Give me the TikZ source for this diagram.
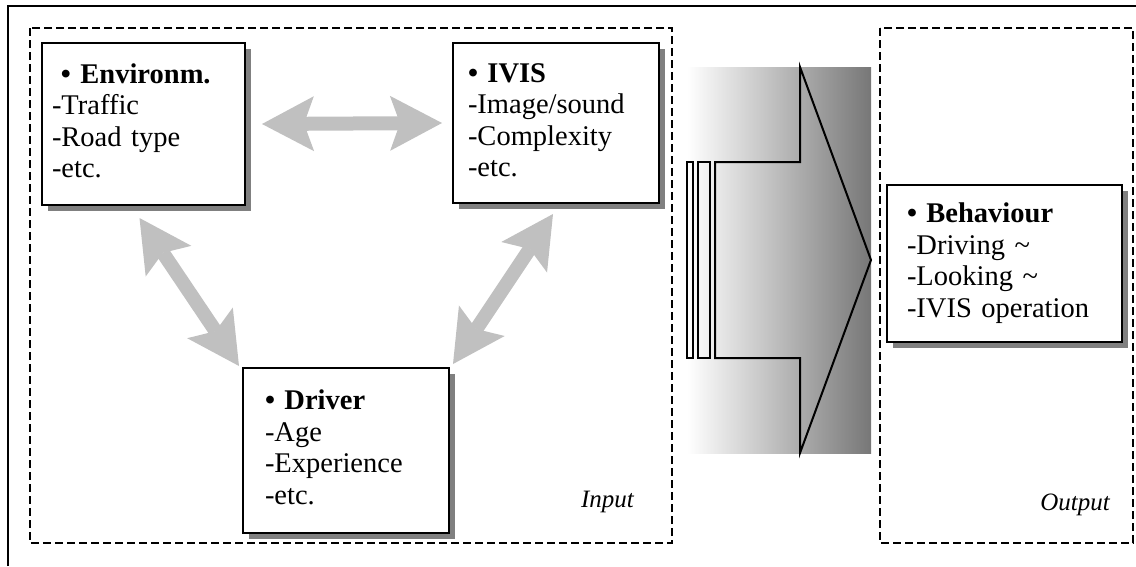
\documentclass[tikz,border=0pt]{standalone}
\usepackage{fontspec}
\setmainfont{Liberation Serif}
\usetikzlibrary{arrows.meta,shadows}
\definecolor{shadowgray}{RGB}{128,128,128}
\definecolor{arrowgray}{RGB}{192,192,192}
\definecolor{darkgrad}{RGB}{119,119,119}
\begin{document}
\begin{tikzpicture}[x=1pt,y=-1pt,
  box/.style={draw=black, line width=2pt, fill=white, rectangle, align=left,
    inner ysep=0pt, font=\fontsize{28.5}{31.5}\selectfont,
    drop shadow={shadow xshift=6pt, shadow yshift=-6pt, fill=shadowgray, opacity=1}},
  frame/.style={draw=black, line width=1.6pt, dash pattern=on 8pt off 4pt},
  garrowtip/.style={},
  garrow/.style={draw=arrowgray, line width=14pt,
    {Stealth[length=52pt,width=55pt,inset=10pt,line width=0pt]}-{Stealth[length=52pt,width=55pt,inset=10pt,line width=0pt]}},
  lbl/.style={inner sep=0pt, font=\fontsize{25}{30}\selectfont\itshape},
  outline/.style={draw=black, line width=2pt}]
\useasboundingbox (0,0) rectangle (1136,566);
% outer frame (top and left edges)
\draw[outline] (8,566) -- (8,6) -- (1136,6);
% dashed groups
\draw[frame] (30,28) rectangle (672,543);
\draw[frame] (880,28) rectangle (1133,543);
% big shaded arrow
\shade[left color=white, right color=darkgrad] (687,67) rectangle (871,453);
\draw[outline, line join=miter] (715,162) -- (800,162) -- (800,67) -- (871,260) -- (800,453) -- (800,358) -- (715,358) -- cycle;
\draw[outline] (687,162) rectangle (693,358);
\draw[outline] (698,162) rectangle (710,358);
% boxes
\node[box, minimum width=203pt, minimum height=162pt, text width=183pt, inner xsep=10pt] (env) at (143.5,124)
  {\strut\hspace*{9pt}\textbf{• Environm.}\\-Traffic\\-Road type\\-etc.\strut};
\node[box, minimum width=206pt, minimum height=160pt, text width=176pt, inner xsep=15pt] (ivis) at (556,123)
  {\strut\textbf{• IVIS}\\-Image/sound\\-Complexity\\-etc.\strut};
\node[box, minimum width=206pt, minimum height=165pt, text width=162pt, inner xsep=22pt] (drv) at (346,450.5)
  {\strut\textbf{• Driver}\\-Age\\-Experience\\-etc.\strut};
\node[box, minimum width=235pt, minimum height=157pt, text width=195pt, inner xsep=20pt] (beh) at (1004.5,263.5)
  {\strut\textbf{• Behaviour}\\-Driving \textasciitilde\\-Looking \textasciitilde\\-IVIS operation\strut};
% gray double arrows
\draw[garrow] ([xshift=16pt]env.east) -- ([xshift=-10pt]ivis.west);
\draw[garrow] ([shift={(-4,12)}]env.south) -- ([shift={(-3,-1)}]drv.north west);
\draw[garrow] ([shift={(-3,10)}]ivis.south) -- ([shift={(3,-3)}]drv.north east);
% labels
\node[lbl, anchor=base east] (inlbl) at (634,507) {Input};
\node[lbl, anchor=base east] (outlbl) at (1110,510) {Output};
\end{tikzpicture}
\end{document}
